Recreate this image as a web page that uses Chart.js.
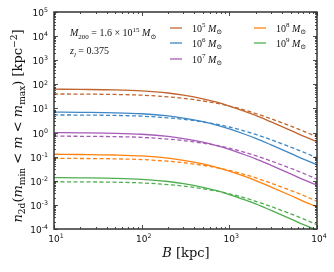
<!DOCTYPE html>
<html>
<head>
<meta charset="utf-8">
<script src="https://cdn.jsdelivr.net/npm/chart.js@4/dist/chart.umd.min.js"></script>
<style>
  html, body { margin: 0; padding: 0; background: #fff; }
  #wrap { width: 334px; height: 272px; position: relative; }
</style>
</head>
<body>
<div id="wrap"><canvas id="c" width="334" height="272"></canvas></div>
<script>
// Projected separation B [kpc], shared by every curve
const B_KPC = [10, 20, 50, 100, 200, 300, 500, 700, 1000, 1500, 2000, 3000, 5000, 7000, 10000];

// n_2d per mass bin: solid and dashed curves
const N_1E5 = [63.1, 61.7, 58.9, 53.7, 43.7, 35.5, 25.1, 18.6, 12.6, 7.59, 5.13, 2.75, 1.23, 0.708, 0.417];
const N_1E5_DASH = [39.8, 39.4, 38.0, 35.5, 30.2, 26.3, 20.4, 16.6, 12.6, 8.51, 6.17, 3.72, 1.86, 1.15, 0.661];
const N_1E6 = [7.08, 6.92, 6.61, 6.03, 4.90, 3.98, 2.82, 2.09, 1.41, 0.851, 0.575, 0.309, 0.138, 0.0794, 0.0468];
const N_1E6_DASH = [5.37, 5.31, 5.13, 4.79, 4.07, 3.55, 2.75, 2.24, 1.70, 1.15, 0.832, 0.501, 0.251, 0.155, 0.0891];
const N_1E7 = [1.0, 0.977, 0.933, 0.851, 0.692, 0.562, 0.398, 0.295, 0.200, 0.120, 0.0813, 0.0437, 0.0195, 0.0112, 0.00661];
const N_1E7_DASH = [0.708, 0.700, 0.676, 0.631, 0.537, 0.468, 0.363, 0.295, 0.224, 0.151, 0.110, 0.0661, 0.0331, 0.0204, 0.0117];
const N_1E8 = [0.126, 0.123, 0.117, 0.107, 0.0871, 0.0708, 0.0501, 0.0372, 0.0251, 0.0151, 0.0102, 0.00550, 0.00245, 0.00141, 0.000832];
const N_1E8_DASH = [0.0851, 0.0841, 0.0813, 0.0759, 0.0646, 0.0562, 0.0437, 0.0355, 0.0269, 0.0182, 0.0132, 0.00794, 0.00398, 0.00245, 0.00141];
const N_1E9 = [0.0135, 0.0132, 0.0126, 0.0115, 0.00933, 0.00759, 0.00537, 0.00398, 0.00269, 0.00162, 0.00110, 0.000589, 0.000263, 0.000151, 0.0000891];
const N_1E9_DASH = [0.00912, 0.00902, 0.00871, 0.00813, 0.00692, 0.00603, 0.00468, 0.00380, 0.00288, 0.00195, 0.00141, 0.000851, 0.000427, 0.000263, 0.000151];

const MASS_EXP = ['5', '6', '7', '8', '9'];
const COLORS = ['#c0652f', '#3f88c5', '#a65bb6', '#ff8210', '#4fae4f'];
const SOLID = [N_1E5, N_1E6, N_1E7, N_1E8, N_1E9];
const DASHED = [N_1E5_DASH, N_1E6_DASH, N_1E7_DASH, N_1E8_DASH, N_1E9_DASH];

const X_TICK_EXP = [1, 2, 3, 4];
const Y_TICK_EXP = [-4, -3, -2, -1, 0, 1, 2, 3, 4, 5];

const SERIF = '"Liberation Serif", "DejaVu Serif", serif';
const WIDE_SERIF = '"DejaVu Serif", serif';
const SANS = '"DejaVu Sans", sans-serif';

const pts = (ys) => B_KPC.map((x, i) => ({ x, y: ys[i] }));

// draws mixed text: parts = [{t, i (italic), s ('sup'|'sub')}], y is the baseline
function rich(ctx, parts, x, y, size, family, align) {
  const font = (p) => `${p.i ? 'italic ' : ''}${p.s ? size * 0.7 : size}px ${family}`;
  let w = 0;
  parts.forEach((p) => { ctx.font = font(p); w += ctx.measureText(p.t).width; });
  let cx = align === 'center' ? x - w / 2 : align === 'right' ? x - w : x;
  ctx.textAlign = 'left';
  ctx.textBaseline = 'alphabetic';
  parts.forEach((p) => {
    ctx.font = font(p);
    const dy = p.s === 'sup' ? -size * 0.42 : p.s === 'sub' ? size * 0.25 : 0;
    ctx.fillText(p.t, cx, y + dy);
    cx += ctx.measureText(p.t).width;
  });
}

const decor = {
  id: 'decor',
  afterDraw(chart) {
    const { ctx, chartArea: a, scales } = chart;
    const xs = scales.x, ys = scales.y;
    ctx.save();
    ctx.fillStyle = '#111';
    ctx.strokeStyle = '#222';

    // ticks, pointing inwards on all four sides
    ctx.lineWidth = 0.8;
    ctx.beginPath();
    for (let e = 1; e <= 4; e++) {
      for (let k = 1; k <= 9; k++) {
        if (e === 4 && k > 1) break;
        const px = Math.round(xs.getPixelForValue(k * Math.pow(10, e))) + 0.5;
        const len = k === 1 ? 4 : 2;
        ctx.moveTo(px, a.bottom); ctx.lineTo(px, a.bottom - len);
        ctx.moveTo(px, a.top); ctx.lineTo(px, a.top + len);
      }
    }
    for (let e = -4; e <= 5; e++) {
      for (let k = 1; k <= 9; k++) {
        if (e === 5 && k > 1) break;
        const py = Math.round(ys.getPixelForValue(k * Math.pow(10, e))) + 0.5;
        const len = k === 1 ? 4 : 2;
        ctx.moveTo(a.left, py); ctx.lineTo(a.left + len, py);
        ctx.moveTo(a.right, py); ctx.lineTo(a.right - len, py);
      }
    }
    ctx.stroke();

    // frame
    ctx.lineWidth = 1.5;
    ctx.strokeStyle = '#333';
    ctx.strokeRect(a.left, a.top, a.right - a.left, a.bottom - a.top);

    // tick labels
    X_TICK_EXP.forEach((e) => {
      rich(ctx, [{ t: '10' }, { t: String(e), s: 'sup' }], xs.getPixelForValue(Math.pow(10, e)) + 2, 242, 9, SANS, 'center');
    });
    Y_TICK_EXP.forEach((e) => {
      const lab = e < 0 ? '-' + (-e) : String(e);
      rich(ctx, [{ t: '10' }, { t: lab, s: 'sup' }], 48, ys.getPixelForValue(Math.pow(10, e)) + 4, 9, SANS, 'right');
    });

    // axis titles
    rich(ctx, [{ t: 'B', i: true }, { t: ' [kpc]' }], 186, 257, 13, WIDE_SERIF, 'center');
    ctx.save();
    ctx.translate(22, 126);
    ctx.rotate(-Math.PI / 2);
    rich(ctx, [
      { t: 'n', i: true }, { t: '2d', s: 'sub' }, { t: '(' },
      { t: 'm', i: true }, { t: 'min', s: 'sub' }, { t: ' < ' },
      { t: 'm', i: true }, { t: ' < ' },
      { t: 'm', i: true }, { t: 'max', s: 'sub' }, { t: ') [kpc' },
      { t: '−2', s: 'sup' }, { t: ']' },
    ], 0, 0, 13, WIDE_SERIF, 'center');
    ctx.restore();

    // annotation
    rich(ctx, [
      { t: 'M', i: true }, { t: '200', s: 'sub' }, { t: ' = 1.6 × 10' }, { t: '15', s: 'sup' },
      { t: ' M', i: true }, { t: '⊙', s: 'sub' },
    ], 70, 36, 10, SERIF, 'left');
    rich(ctx, [{ t: 'z', i: true }, { t: 'l', i: true, s: 'sub' }, { t: ' = 0.375' }], 70, 54, 10, SERIF, 'left');

    // legend
    const slots = [[170, 28], [170, 43], [170, 59], [254, 28], [254, 43]];
    MASS_EXP.forEach((e, i) => {
      const [lx, ly] = slots[i];
      ctx.strokeStyle = COLORS[i];
      ctx.lineWidth = 1.3;
      ctx.beginPath();
      ctx.moveTo(lx, ly); ctx.lineTo(lx + 12, ly);
      ctx.stroke();
      ctx.fillStyle = '#111';
      rich(ctx, [{ t: '10' }, { t: e, s: 'sup' }, { t: ' M', i: true }, { t: '⊙', s: 'sub' }], lx + 22, ly + 3.5, 10, SERIF, 'left');
    });
    ctx.restore();
  },
};

const datasets = [];
SOLID.forEach((ys, i) => {
  datasets.push({ data: pts(ys), borderColor: COLORS[i], borderWidth: 1.3 });
  datasets.push({ data: pts(DASHED[i]), borderColor: COLORS[i], borderWidth: 1.3, borderDash: [4, 2.5] });
});

new Chart(document.getElementById('c'), {
  type: 'line',
  data: { datasets },
  options: {
    responsive: false,
    animation: false,
    layout: { padding: { left: 0, right: 17, top: 12, bottom: 0 } },
    elements: { point: { radius: 0 }, line: { cubicInterpolationMode: 'monotone', fill: false } },
    plugins: { legend: { display: false }, tooltip: { enabled: false } },
    scales: {
      x: {
        type: 'logarithmic', min: 10, max: 10000,
        grid: { display: false }, border: { display: false },
        ticks: { display: false },
        afterFit: (s) => { s.height = 43; },
      },
      y: {
        type: 'logarithmic', min: 1e-4, max: 1e5,
        grid: { display: false }, border: { display: false },
        ticks: { display: false },
        afterFit: (s) => { s.width = 54; },
      },
    },
  },
  plugins: [decor],
});
</script>
</body>
</html>
